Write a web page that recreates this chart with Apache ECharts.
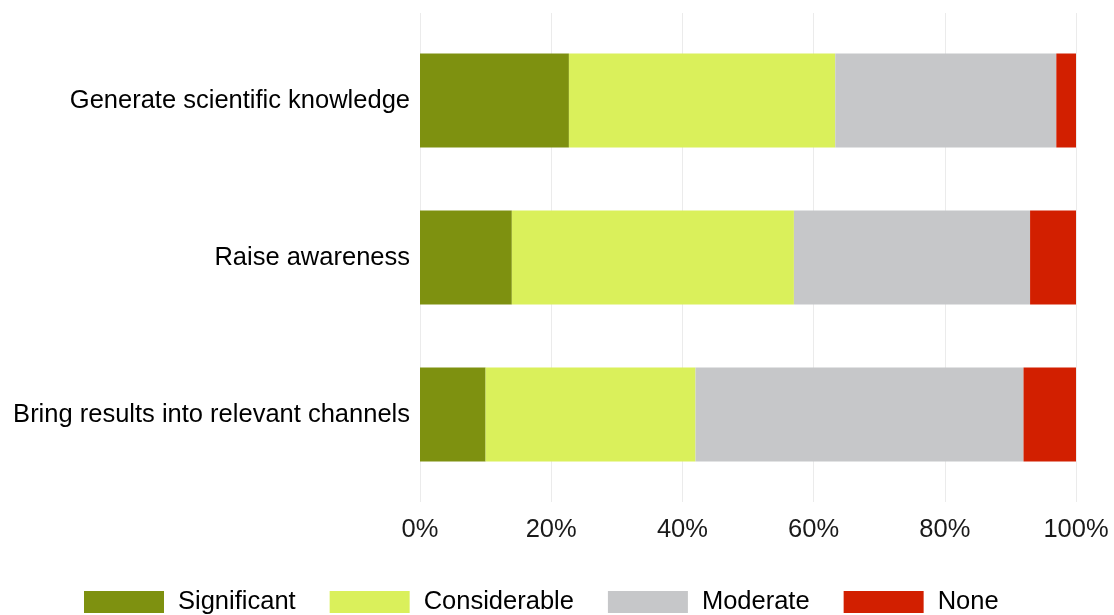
<!DOCTYPE html>
<html>
<head>
<meta charset="utf-8">
<script src="https://cdn.jsdelivr.net/npm/echarts@6/dist/echarts.min.js"></script>
<style>
  html, body { margin: 0; padding: 0; background: #ffffff; }
  #chart { width: 1114px; height: 615px; }
</style>
</head>
<body>
<div id="chart"></div>
<script>
// Survey items (top to bottom) and share of responses per level, in percent
const categories = [
  'Generate scientific knowledge',
  'Raise awareness',
  'Bring results into relevant channels'
];
const levels = ['Significant', 'Considerable', 'Moderate', 'None'];
const significant  = [22.7, 14.0, 10.0];
const considerable = [40.6, 43.0, 32.0];
const moderate     = [33.7, 36.0, 50.0];
const none         = [3.0, 7.0, 8.0];
const xTicks = [0, 20, 40, 60, 80, 100];

const colors = ['#7e9110', '#daf05b', '#c6c7c9', '#d21f00'];
const seriesValues = [significant, considerable, moderate, none];

const FONT = 'Liberation Sans, Arial, sans-serif';
const FS = 25.5;
const chart = echarts.init(document.getElementById('chart'), null, { renderer: 'canvas' });

chart.setOption({
  animation: false,
  color: colors,
  textStyle: { fontFamily: FONT },
  grid: [
    // panel with gridlines and percent labels
    { left: 420, right: 38, top: 13, height: 489, containLabel: false },
    // bars area (category bands sit inside the panel's padding)
    { left: 420, right: 38, top: 22, height: 471, containLabel: false }
  ],
  xAxis: [
    {
      gridIndex: 0, type: 'value', min: xTicks[0], max: xTicks[xTicks.length - 1], interval: 20,
      axisLine: { show: false }, axisTick: { show: false },
      splitLine: { show: true, lineStyle: { color: '#ebebeb', width: 1 } },
      axisLabel: {
        color: '#1a1a1a', fontSize: FS, margin: 15, fontFamily: FONT,
        formatter: v => v + '%'
      }
    },
    {
      gridIndex: 1, type: 'value', min: 0, max: 100, show: false
    }
  ],
  yAxis: [
    {
      gridIndex: 0, type: 'category', data: categories, show: false, inverse: true
    },
    {
      gridIndex: 1, type: 'category', data: categories, inverse: true,
      axisLine: { show: false }, axisTick: { show: false },
      axisLabel: { color: '#000000', fontSize: FS, margin: 10, fontFamily: FONT, padding: [6, 0, 0, 0] }
    }
  ],
  legend: {
    data: levels,
    left: 79, top: 584,
    itemWidth: 80, itemHeight: 22, itemGap: 34,
    icon: 'rect',
    textStyle: { color: '#000000', fontSize: FS, fontFamily: FONT, padding: [0, 0, 0, 9] }
  },
  series: levels.map((name, i) => ({
    name,
    type: 'bar',
    stack: 'total',
    xAxisIndex: 1,
    yAxisIndex: 1,
    barWidth: '60%',
    data: seriesValues[i],
    itemStyle: { color: colors[i] }
  }))
});
</script>
</body>
</html>
